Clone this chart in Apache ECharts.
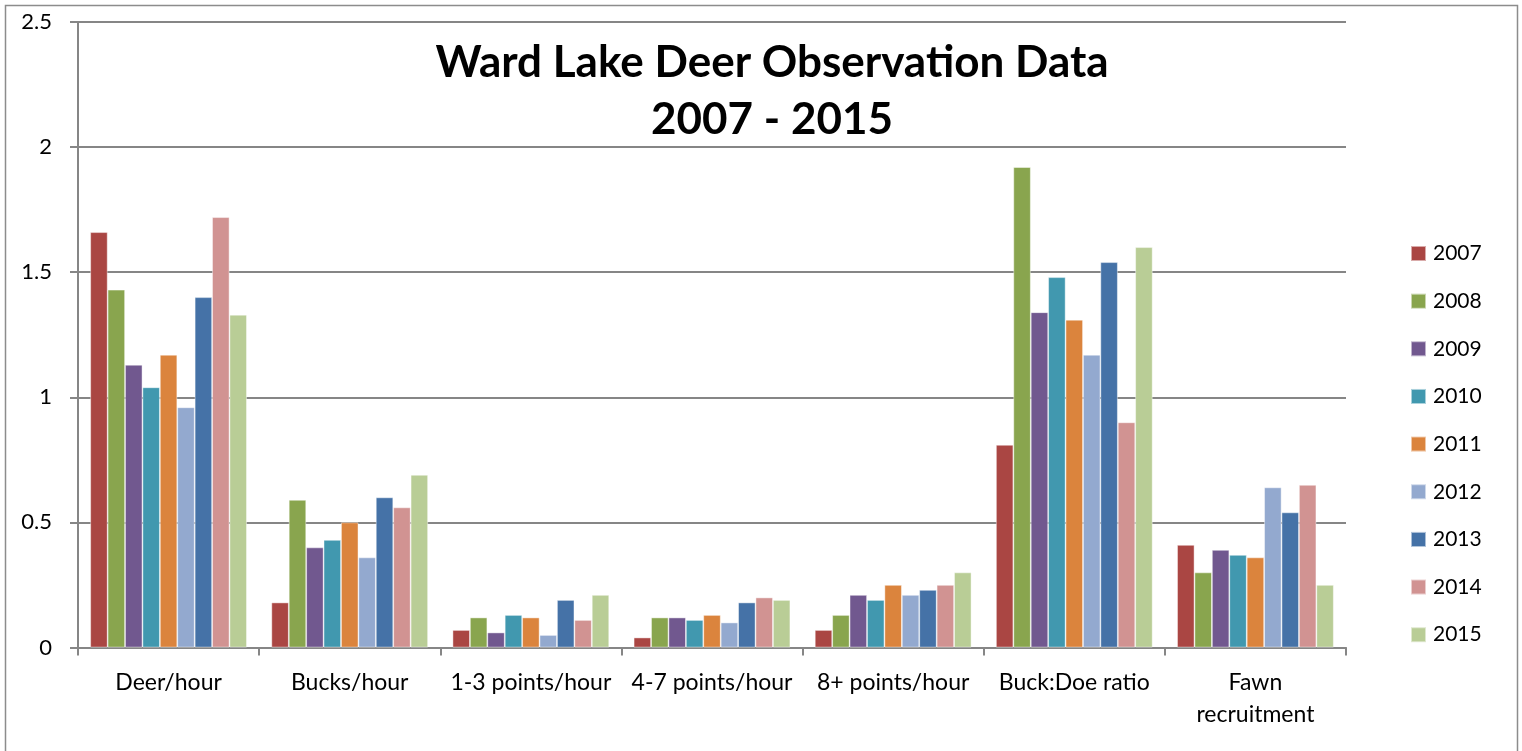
<!DOCTYPE html>
<html>
<head>
<meta charset="utf-8">
<title>Ward Lake Deer Observation Data</title>
<script src="https://cdn.jsdelivr.net/npm/echarts@6/dist/echarts.min.js"></script>
<style>
  html, body { margin: 0; padding: 0; background: #fff; }
  #chart { width: 1522px; height: 751px; }
</style>
</head>
<body>
<div id="chart"></div>
<script>
  // categories on the x axis
  const categories = ['Deer/hour', 'Bucks/hour', '1-3 points/hour', '4-7 points/hour',
    '8+ points/hour', 'Buck:Doe ratio', 'Fawn\nrecruitment'];
  const years = ['2007', '2008', '2009', '2010', '2011', '2012', '2013', '2014', '2015'];
  const yTicks = [0, 0.5, 1, 1.5, 2, 2.5];

  // one array per year
  const y2007 = [1.66, 0.18, 0.07, 0.04, 0.07, 0.81, 0.41];
  const y2008 = [1.43, 0.59, 0.12, 0.12, 0.13, 1.92, 0.30];
  const y2009 = [1.13, 0.40, 0.06, 0.12, 0.21, 1.34, 0.39];
  const y2010 = [1.04, 0.43, 0.13, 0.11, 0.19, 1.48, 0.37];
  const y2011 = [1.17, 0.50, 0.12, 0.13, 0.25, 1.31, 0.36];
  const y2012 = [0.96, 0.36, 0.05, 0.10, 0.21, 1.17, 0.64];
  const y2013 = [1.40, 0.60, 0.19, 0.18, 0.23, 1.54, 0.54];
  const y2014 = [1.72, 0.56, 0.11, 0.20, 0.25, 0.90, 0.65];
  const y2015 = [1.33, 0.69, 0.21, 0.19, 0.30, 1.60, 0.25];
  const yearValues = [y2007, y2008, y2009, y2010, y2011, y2012, y2013, y2014, y2015];

  const colors = ['#AA4643', '#89A54E', '#71588F', '#4198AF', '#DB843D',
    '#93A9CF', '#4572A7', '#D19392', '#B9CD96'];

  const font = 'Lato, "Open Sans", sans-serif';
  const gray = '#868686';

  const chart = echarts.init(document.getElementById('chart'));

  const series = years.map((yr, i) => ({
    name: yr,
    type: 'bar',
    data: yearValues[i],
    barGap: '0%',
    barCategoryGap: '13.5%',
    itemStyle: {
      color: colors[i],
      borderColor: 'rgba(255,255,255,0.55)',
      borderWidth: 0.8
    }
  }));

  const option = {
    animation: false,
    color: colors,
    title: {
      text: 'Ward Lake Deer Observation Data\n2007 - 2015',
      left: 767,
      textAlign: 'center',
      top: 29,
      textStyle: {
        fontFamily: font,
        fontSize: 44,
        fontWeight: 'bold',
        color: '#000',
        lineHeight: 57
      }
    },
    legend: {
      orient: 'vertical',
      left: 1410,
      top: 243,
      padding: 0,
      itemWidth: 15,
      itemHeight: 15,
      itemGap: 26.65,
      icon: 'rect',
      textStyle: {
        fontFamily: font,
        fontSize: 21,
        color: '#000',
        lineHeight: 20,
        padding: [0, 0, 0, 2]
      },
      data: years
    },
    grid: {
      left: 78,
      right: 176,
      top: 22,
      bottom: 103.5
    },
    xAxis: {
      type: 'category',
      data: categories,
      axisLine: { lineStyle: { color: gray, width: 2 } },
      axisTick: { show: true, length: 8, lineStyle: { color: gray, width: 2 } },
      axisLabel: {
        fontFamily: font,
        fontSize: 23,
        color: '#000',
        margin: 19,
        lineHeight: 32,
        interval: 0
      }
    },
    yAxis: {
      type: 'value',
      min: yTicks[0],
      max: yTicks[yTicks.length - 1],
      interval: 0.5,
      axisLine: { show: true, lineStyle: { color: gray, width: 2 } },
      axisTick: { show: true, length: 8, lineStyle: { color: gray, width: 2 } },
      splitLine: { lineStyle: { color: gray, width: 2 } },
      axisLabel: {
        fontFamily: font,
        fontSize: 22,
        color: '#000',
        margin: 26
      }
    },
    graphic: [{
      type: 'rect',
      shape: { x: 5.5, y: 5.5, width: 1512, height: 800 },
      style: { fill: 'none', stroke: '#8c8c8c', lineWidth: 1.5 },
      silent: true,
      z: -1
    }],
    series
  };

  chart.setOption(option);
</script>
</body>
</html>
